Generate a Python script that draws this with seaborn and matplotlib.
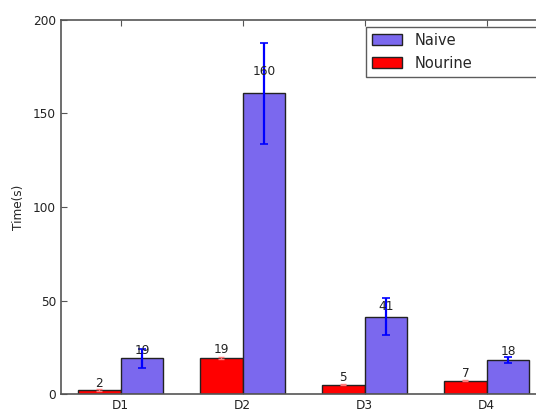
import matplotlib
matplotlib.use("Agg")
import matplotlib.pyplot as plt
import seaborn as sns
import pandas as pd
import numpy as np
from matplotlib.patches import Patch

categories = ["D1", "D2", "D3", "D4"]
nourine_vals = [2.2, 19.3, 5.0, 7.1]
nourine_err = [0.4, 0.4, 0.3, 0.3]
naive_vals = [19.0, 160.8, 41.4, 18.4]
naive_err = [4.9, 27.0, 9.8, 1.6]
yticks = [0, 50, 100, 150, 200]

sns.set_style("white")
plt.rcParams["font.family"] = ["DejaVu Sans"]

df = pd.DataFrame({
    "cat": categories * 2,
    "val": nourine_vals + naive_vals,
    "method": ["Nourine"] * 4 + ["Naive"] * 4,
})

fig = plt.figure(figsize=(5.36, 4.11), dpi=100)
ax_left = 61 / 536
ax_bottom = (411 - 394) / 411
ax_height = (394 - 20) / 411
ax_width = (566 - 61) / 536
ax = fig.add_axes([ax_left, ax_bottom, ax_width, ax_height])

palette = {"Nourine": "#ff0000", "Naive": "#7b68ee"}
sns.barplot(data=df, x="cat", y="val", hue="method", order=categories,
            hue_order=["Nourine", "Naive"], palette=palette, width=0.7,
            saturation=1, errorbar=None, edgecolor="#222222", linewidth=1,
            ax=ax, legend=False)

patches = [p for p in ax.patches]
nour_p = patches[:4]
naive_p = patches[4:8]

nx = [p.get_x() + p.get_width() / 2 for p in nour_p]
bx = [p.get_x() + p.get_width() / 2 for p in naive_p]

ax.errorbar(nx, nourine_vals, yerr=nourine_err, fmt="none", ecolor="#ff7a7a",
            elinewidth=1, capsize=2, capthick=1, zorder=5)
ax.errorbar(bx, naive_vals, yerr=naive_err, fmt="none", ecolor="#0000ff",
            elinewidth=1.6, capsize=3, capthick=1.2, zorder=5)

for x, h in zip(nx, nourine_vals):
    ax.text(x, 1.05 * h, "%d" % int(h), ha="center", va="bottom",
            fontsize=8.7, color="#222222", zorder=6)
for x, h in zip(bx, naive_vals):
    ax.text(x, 1.05 * h, "%d" % int(h), ha="center", va="bottom",
            fontsize=8.7, color="#222222", zorder=6)

ax.set_xlim(-0.49, 3.65)
ax.set_ylim(0, 200)
ax.set_yticks(yticks)
ax.set_yticklabels([str(v) for v in yticks], fontsize=8.7)
ax.set_xticks(range(len(categories)))
ax.set_xticklabels(categories, fontsize=8.7)
ax.set_xlabel("")
ax.set_ylabel("Time(s)", fontsize=8.7, labelpad=6)
ax.tick_params(direction="in", length=4, width=0.8, colors="#555555",
               labelcolor="#222222", top=True, right=True, bottom=True, left=True)
for s in ax.spines.values():
    s.set_color("#555555")
    s.set_linewidth(1.2)
    s.set_visible(True)

handles = [Patch(facecolor=palette["Naive"], edgecolor="#222222", label="Naive"),
           Patch(facecolor=palette["Nourine"], edgecolor="#222222", label="Nourine")]
inv = ax.transAxes.inverted()
x0 = inv.transform(fig.transFigure.transform((366 / 536, 0)))[0]
x1 = inv.transform(fig.transFigure.transform((560 / 536, 0)))[0]
y_top = inv.transform(fig.transFigure.transform((0, (411 - 27) / 411)))[1]
y_bot = inv.transform(fig.transFigure.transform((0, (411 - 78) / 411)))[1]
leg = ax.legend(handles=handles, loc="upper left",
                bbox_to_anchor=(x0, y_bot, x1 - x0, y_top - y_bot),
                mode="expand", fontsize=10.5, frameon=True, fancybox=False,
                borderaxespad=0, borderpad=0.4, handlelength=2.1,
                handleheight=0.75, labelspacing=0.55, handletextpad=0.85)
leg.get_frame().set_edgecolor("#333333")
leg.get_frame().set_linewidth(1)

fig.savefig("out.png", dpi=100)
